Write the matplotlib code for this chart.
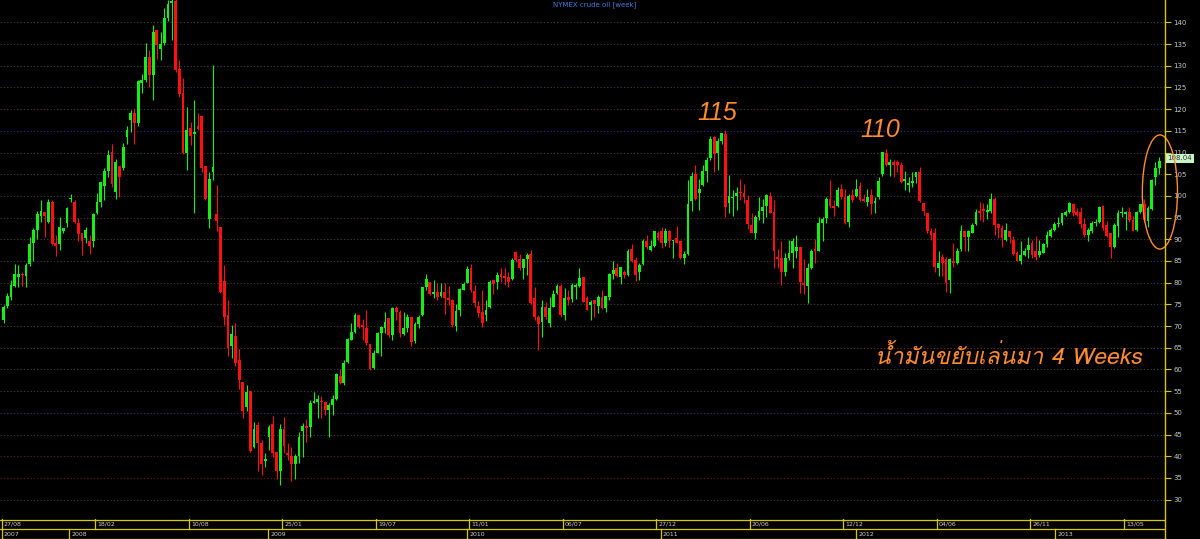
import numpy as np
import matplotlib.pyplot as plt
from matplotlib import font_manager
from matplotlib.ft2font import FT2Font
from matplotlib.patches import Ellipse
from matplotlib.lines import Line2D
from matplotlib.transforms import blended_transform_factory

# weekly NYMEX crude, 27/08/2007 .. mid 2013
opens = [
    71.4, 74.6, 76.8, 79.3, 81.4, 82.1, 81.5, 84.3, 89.2, 92.2,
    95.4, 96.4, 94.1, 98.6, 89.2, 88.9, 91.8, 93.8, 99.2, 98.6,
    93.8, 91.5, 90.3, 89.5, 89.5, 96.0, 98.6, 102.2, 105.8, 110.1,
    101.0, 106.9, 106.4, 113.5, 117.6, 119.2, 116.7, 126.1, 126.7, 131.9,
    127.9, 138.2, 133.9, 135.2, 140.9, 144.4, 144.9, 129.2, 123.6, 109.8,
    115.6, 114.3, 116.0, 118.4, 106.9, 94.6, 105.4, 95.8, 92.8, 80.4,
    72.6, 65.3, 67.7, 62.2, 57.1, 51.4, 55.0, 42.2, 47.2, 43.1,
    38.8, 44.4, 47.5, 41.0, 36.5, 46.4, 40.8, 40.1, 38.3, 40.1,
    45.9, 47.0, 46.7, 52.2, 52.4, 52.8, 52.4, 50.7, 51.8, 53.1,
    58.5, 56.8, 61.8, 66.8, 68.7, 72.6, 70.3, 69.5, 65.9, 60.3,
    63.9, 68.5, 69.5, 71.8, 67.9, 74.1, 73.3, 68.2, 69.5, 72.2,
    66.6, 70.5, 72.6, 78.9, 80.2, 77.4, 77.9, 76.9, 77.9, 76.4,
    76.0, 70.0, 73.6, 78.4, 80.0, 83.3, 78.2, 74.6, 73.3, 72.6,
    74.3, 80.6, 80.2, 81.9, 81.5, 81.2, 80.8, 87.1, 85.4, 83.3,
    85.4, 86.6, 76.4, 72.0, 71.0, 74.5, 70.8, 74.5, 77.7, 79.2,
    72.6, 76.8, 76.2, 79.1, 79.2, 81.4, 76.4, 74.8, 75.9, 74.6,
    76.8, 74.1, 76.8, 82.0, 83.3, 81.4, 82.5, 81.8, 87.7, 85.2,
    82.5, 84.3, 89.7, 87.5, 88.5, 91.4, 91.8, 89.2, 91.8, 89.5,
    90.2, 89.5, 85.8, 86.6, 98.9, 105.0, 100.6, 102.5, 105.8, 108.7,
    113.5, 109.8, 112.7, 114.3, 98.3, 99.6, 100.0, 101.0, 100.6, 99.1,
    93.3, 91.5, 95.2, 96.6, 97.7, 100.0, 96.4, 86.0, 85.8, 82.5,
    85.8, 86.9, 87.2, 88.2, 80.0, 79.2, 83.3, 87.7, 87.4, 93.8,
    94.8, 99.4, 97.7, 97.7, 101.5, 99.7, 94.1, 100.2, 100.0, 102.3,
    99.4, 98.7, 100.2, 98.3, 99.7, 105.0, 110.0, 107.1, 107.8, 107.7,
    107.1, 103.4, 102.5, 102.9, 104.3, 105.4, 98.4, 96.1, 91.8, 91.4,
    83.4, 86.0, 85.5, 80.6, 85.1, 84.5, 87.7, 91.8, 90.6, 91.5,
    93.5, 96.6, 96.9, 96.4, 96.6, 99.2, 93.5, 92.5, 89.9, 92.0,
    89.9, 86.8, 84.9, 86.4, 87.5, 89.2, 87.2, 86.4, 86.9, 88.9,
    90.8, 92.2, 93.5, 93.8, 95.6, 96.4, 98.1, 96.4, 96.4, 93.5,
    91.0, 92.0, 93.8, 94.1, 97.7, 93.3, 91.4, 88.2, 93.0, 96.0,
    95.8, 96.4, 94.5, 92.2, 96.4, 98.1, 94.3, 96.9, 104.4, 106.4,
]
highs = [
    74.9, 77.6, 80.6, 84.3, 84.1, 82.5, 84.5, 90.5, 92.5, 96.6,
    99.1, 96.4, 99.4, 99.1, 91.0, 95.1, 92.6, 97.5, 100.4, 99.1,
    94.8, 91.5, 92.9, 91.0, 96.0, 100.6, 103.3, 106.4, 110.6, 112.0,
    108.4, 106.9, 112.3, 116.0, 119.8, 120.2, 126.6, 128.1, 135.3, 133.6,
    139.4, 138.2, 137.8, 143.2, 145.1, 147.3, 145.5, 131.3, 127.1, 120.4,
    117.1, 122.1, 119.0, 118.4, 106.9, 105.6, 130.2, 102.5, 92.8, 84.1,
    76.0, 70.3, 70.8, 64.7, 57.1, 56.4, 55.0, 48.0, 48.0, 43.8,
    40.7, 47.2, 49.3, 41.0, 47.5, 49.0, 43.0, 42.2, 40.5, 45.5,
    47.6, 48.5, 53.0, 54.7, 54.1, 53.9, 52.4, 52.2, 54.1, 59.1,
    60.0, 62.3, 67.2, 70.6, 73.0, 72.6, 71.6, 73.7, 65.9, 64.5,
    68.7, 70.0, 73.3, 71.8, 74.5, 74.6, 73.7, 73.3, 72.9, 72.2,
    71.0, 72.6, 79.1, 82.0, 80.2, 80.6, 80.0, 80.0, 80.0, 79.2,
    76.2, 75.1, 78.7, 80.2, 83.8, 84.3, 79.5, 75.8, 78.3, 76.0,
    80.6, 80.8, 82.5, 83.3, 83.3, 82.5, 85.6, 87.4, 86.6, 85.4,
    86.8, 87.5, 78.9, 72.6, 76.0, 75.6, 76.8, 78.3, 79.7, 79.8,
    78.7, 78.3, 79.9, 80.0, 83.3, 81.4, 76.9, 76.0, 75.9, 77.2,
    78.3, 76.9, 82.2, 84.9, 84.5, 83.7, 82.9, 87.7, 88.9, 86.0,
    84.6, 90.0, 91.0, 89.8, 92.0, 92.0, 92.9, 92.5, 92.1, 89.8,
    93.1, 89.5, 87.2, 103.7, 105.4, 107.1, 103.8, 107.1, 109.0, 113.7,
    113.7, 113.3, 114.6, 115.2, 104.8, 101.4, 102.0, 103.8, 102.7, 100.2,
    96.1, 95.6, 99.8, 99.4, 100.4, 100.8, 99.1, 87.7, 89.5, 86.9,
    89.8, 90.2, 91.0, 88.3, 85.4, 84.5, 87.7, 90.0, 95.2, 95.2,
    99.8, 103.7, 99.1, 102.0, 102.7, 101.5, 100.4, 101.5, 104.0, 103.3,
    100.4, 101.7, 101.7, 99.8, 104.3, 110.2, 110.7, 108.4, 108.3, 108.3,
    107.9, 105.8, 104.4, 105.4, 105.4, 106.7, 98.4, 96.1, 92.5, 92.5,
    87.4, 86.6, 86.0, 85.6, 89.2, 87.9, 93.3, 91.8, 92.1, 93.8,
    96.9, 98.7, 98.3, 98.1, 100.6, 99.7, 93.7, 93.3, 93.8, 92.0,
    90.8, 87.2, 89.7, 87.9, 90.5, 89.8, 90.8, 89.8, 89.2, 91.8,
    92.5, 94.1, 95.1, 96.1, 96.8, 98.7, 98.3, 97.1, 97.4, 94.8,
    92.5, 94.3, 94.6, 97.7, 97.9, 94.3, 91.5, 93.8, 96.8, 97.4,
    96.6, 97.4, 95.4, 96.6, 98.1, 99.2, 97.7, 103.8, 107.7, 108.9,
]
lows = [
    70.6, 74.1, 76.0, 78.9, 79.1, 79.2, 78.9, 83.9, 85.1, 90.0,
    94.1, 90.6, 93.7, 88.7, 86.2, 87.5, 91.4, 92.9, 98.7, 93.7,
    89.7, 86.4, 89.1, 86.6, 88.3, 95.9, 97.5, 99.1, 104.4, 102.0,
    99.4, 99.8, 106.0, 112.0, 114.8, 112.0, 116.1, 123.8, 126.3, 125.0,
    122.0, 131.5, 131.3, 134.8, 140.2, 135.9, 128.6, 122.9, 109.7, 106.0,
    111.7, 96.1, 115.2, 105.6, 99.1, 92.5, 103.7, 91.8, 77.6, 70.3,
    63.1, 62.6, 60.7, 55.4, 48.8, 50.5, 41.1, 41.8, 36.5, 35.7,
    37.5, 41.5, 39.9, 34.7, 33.4, 40.8, 39.2, 34.2, 34.7, 38.4,
    39.9, 43.2, 44.4, 52.2, 48.8, 48.8, 49.5, 44.4, 49.5, 53.0,
    56.7, 56.4, 61.4, 66.7, 68.3, 69.5, 66.7, 65.7, 59.9, 60.0,
    63.7, 63.1, 68.3, 67.6, 66.9, 71.4, 67.6, 68.0, 68.7, 65.4,
    66.0, 69.5, 72.3, 78.3, 77.2, 76.4, 76.0, 76.8, 72.9, 74.9,
    69.9, 68.9, 72.3, 78.3, 79.9, 77.9, 74.5, 72.2, 69.9, 71.2,
    74.1, 77.5, 78.5, 80.2, 79.5, 78.9, 80.6, 84.8, 82.9, 80.8,
    81.8, 75.1, 71.4, 64.6, 67.6, 71.6, 69.9, 74.3, 77.5, 72.2,
    71.4, 74.9, 75.6, 76.2, 79.1, 75.6, 73.6, 71.3, 72.0, 73.1,
    73.9, 73.3, 76.0, 80.8, 81.4, 79.7, 81.0, 81.5, 84.8, 80.5,
    80.6, 84.1, 87.7, 87.2, 88.3, 89.8, 87.9, 88.5, 88.3, 85.6,
    89.1, 85.4, 84.3, 86.4, 96.6, 99.1, 96.8, 102.3, 103.3, 108.3,
    105.6, 106.0, 112.0, 95.2, 96.0, 95.4, 96.8, 99.1, 98.3, 92.3,
    91.4, 90.0, 94.5, 93.8, 95.2, 96.0, 83.3, 83.3, 79.5, 81.5,
    85.2, 83.5, 85.8, 77.7, 77.4, 75.4, 83.1, 84.5, 87.2, 89.5,
    93.7, 97.1, 95.4, 97.5, 99.4, 93.5, 92.9, 98.7, 99.8, 98.9,
    98.7, 97.7, 95.8, 96.1, 99.4, 104.6, 106.9, 104.6, 104.3, 105.4,
    103.0, 101.4, 101.0, 102.0, 103.0, 98.7, 95.6, 91.5, 89.8, 82.5,
    81.5, 81.5, 77.9, 77.7, 83.7, 84.3, 87.2, 87.4, 87.4, 91.4,
    93.3, 94.5, 94.1, 94.6, 96.1, 91.0, 90.2, 88.3, 89.7, 89.2,
    86.4, 84.9, 84.3, 86.2, 85.6, 85.6, 85.2, 86.0, 86.8, 88.3,
    90.5, 92.0, 92.9, 93.3, 95.4, 96.0, 95.4, 95.4, 92.5, 90.5,
    89.7, 91.5, 93.1, 93.8, 92.1, 90.5, 85.8, 87.9, 90.5, 95.2,
    92.1, 94.1, 91.8, 91.8, 96.0, 94.1, 92.9, 96.8, 102.5, 105.1,
]
closes = [
    74.5, 76.9, 79.5, 82.0, 82.0, 81.7, 84.1, 88.9, 92.2, 95.8,
    96.6, 95.4, 98.6, 88.9, 88.5, 92.8, 92.5, 97.3, 99.6, 94.1,
    91.2, 89.7, 92.2, 88.5, 95.8, 98.6, 103.1, 105.8, 109.5, 102.8,
    107.9, 104.3, 111.2, 115.2, 119.2, 116.9, 126.4, 126.6, 131.9, 127.9,
    137.8, 134.7, 135.1, 140.9, 144.2, 144.9, 128.9, 123.5, 109.8, 115.3,
    113.8, 114.7, 115.5, 106.5, 99.4, 103.9, 106.6, 94.3, 77.9, 72.2,
    64.9, 68.2, 61.4, 57.6, 50.5, 54.9, 41.3, 46.4, 43.0, 38.2,
    39.3, 46.7, 40.8, 36.5, 46.2, 42.4, 40.3, 38.2, 40.1, 44.5,
    46.9, 46.6, 52.3, 52.8, 53.1, 52.4, 50.7, 51.8, 53.1, 59.0,
    56.8, 61.6, 67.0, 68.7, 72.6, 69.9, 69.7, 66.0, 60.0, 63.9,
    68.5, 69.9, 71.0, 68.0, 74.1, 73.3, 68.3, 69.5, 72.2, 66.4,
    70.5, 72.2, 78.9, 80.8, 77.4, 77.9, 76.7, 77.9, 76.4, 75.9,
    70.3, 73.5, 78.5, 79.7, 83.1, 78.3, 75.3, 73.1, 70.7, 73.7,
    80.2, 79.8, 81.8, 81.4, 81.0, 80.2, 85.2, 85.2, 83.5, 85.4,
    86.4, 75.4, 72.0, 70.5, 74.5, 72.0, 74.1, 77.5, 79.2, 72.6,
    76.4, 76.0, 79.5, 79.5, 81.0, 75.6, 73.7, 75.6, 75.1, 76.8,
    74.1, 76.9, 82.0, 82.9, 81.5, 83.7, 81.8, 87.4, 85.1, 81.8,
    84.1, 89.7, 88.2, 88.5, 91.8, 90.2, 89.1, 92.0, 89.5, 89.7,
    89.2, 85.8, 86.6, 98.1, 104.6, 99.2, 101.5, 105.8, 108.3, 113.1,
    109.7, 112.7, 114.4, 97.5, 100.0, 99.8, 100.7, 100.6, 99.7, 93.5,
    91.5, 95.2, 96.6, 97.5, 100.2, 96.1, 87.4, 85.5, 82.5, 85.8,
    86.9, 89.5, 88.3, 80.2, 79.5, 83.3, 87.2, 87.4, 93.7, 94.6,
    99.4, 97.7, 97.1, 101.4, 99.7, 93.8, 100.0, 99.1, 101.7, 99.1,
    98.9, 99.8, 98.1, 98.9, 103.5, 110.2, 107.1, 107.9, 107.1, 107.1,
    103.3, 103.8, 103.0, 103.5, 105.4, 98.9, 96.6, 91.8, 91.0, 83.7,
    84.5, 84.5, 80.0, 85.4, 84.5, 87.4, 91.8, 90.6, 91.8, 93.3,
    96.4, 96.1, 96.6, 96.8, 99.2, 93.3, 92.5, 90.2, 92.2, 90.5,
    86.6, 85.1, 86.4, 87.2, 88.7, 86.4, 86.0, 87.2, 88.9, 91.0,
    92.2, 93.5, 93.8, 96.0, 96.4, 98.3, 96.1, 95.6, 93.5, 91.0,
    92.2, 93.8, 94.1, 97.5, 92.5, 90.8, 88.3, 93.3, 96.0, 96.4,
    96.4, 94.5, 92.0, 96.4, 98.1, 94.5, 97.1, 103.7, 106.4, 108.04,
]

price_ticks = list(range(30, 145, 5))
grid_colors = {
    140: '#2c4428', 135: '#3a3a3a', 130: '#3a3a3a', 125: '#3e3050', 120: '#483040',
    115: '#2c2c80', 110: '#3a3a3a', 105: '#3a3a3a', 100: '#3a3a3a', 95: '#483030',
    90: '#244824', 85: '#3a3a3a', 80: '#3a3a3a', 75: '#3a3a3a', 70: '#3a3a3a',
    65: '#5a3a18', 60: '#3a3a3a', 55: '#3a3a3a', 50: '#2c2c70', 45: '#3a3a3a',
    40: '#581830', 35: '#601818', 30: '#3a3a3a',
}

# bottom date bar: candle index where each label box starts
week_labels = ['27/08', '18/02', '10/08', '25/01', '19/07', '11/01', '06/07',
               '27/12', '20/06', '12/12', '04/06', '26/11', '13/05']
week_pos = [0, 25, 50, 75, 100, 125, 150, 175, 200, 225, 250, 275, 300]
year_labels = ['2007', '2008', '2009', '2010', '2011', '2012', '2013']
year_pos = [0, 18, 71.2, 124.4, 176.2, 228.4, 281.6]


def thai_font():
    for f in font_manager.fontManager.ttflist:
        try:
            if 0x0E19 in FT2Font(f.fname).get_charmap():
                return f.name
        except Exception:
            pass
    return 'DejaVu Sans'


W, H = 1200, 539
AX_R = 1165 / W
fig = plt.figure(figsize=(W / 100, H / 100), dpi=100, facecolor='black')
ax = fig.add_axes([0, 20 / H, AX_R, 519 / H], facecolor='black')
ax.set_xlim(-0.94, 310.56)
ax.set_ylim(25.55, 145.14)

for p in price_ticks:
    ax.axhline(p, color=grid_colors[p], lw=0.8, ls=(0, (1.2, 1.8)), zorder=1)

up, down = '#14f014', '#ff1010'
n = len(closes)
x = np.arange(n)
o, h, l, c = (np.array(a) for a in (opens, highs, lows, closes))
col = [up if c[i] >= o[i] else down for i in range(n)]
ax.vlines(x, l, h, colors=col, lw=0.8, zorder=2)
body_lo = np.minimum(o, c)
body_h = np.maximum(np.abs(c - o), 0.25)
ax.bar(x, body_h, bottom=body_lo, width=0.75, color=col, lw=0, zorder=3)

ax.set_xticks([])
ax.set_yticks(price_ticks)
ax.yaxis.tick_right()
ax.tick_params(axis='y', colors='#d8c800', labelcolor='#c8c8c8', labelsize=5,
               length=4, width=0.8, pad=2)
for s in ax.spines.values():
    s.set_visible(False)

orange = '#ff8c32'
ax.text(190.8, 119.1, '115', color=orange, fontsize=18, style='italic',
        ha='center', va='center', family='Liberation Sans')
ax.text(234.4, 115.2, '110', color=orange, fontsize=18, style='italic',
        ha='center', va='center', family='Liberation Sans')
ax.text(233, 61.3, 'น้ำมันขยับเล่นมา 4 Weeks', color=orange, fontsize=16.5,
        style='italic', ha='left', va='baseline', family=[thai_font(), 'DejaVu Sans'])
ax.add_patch(Ellipse((309.2, 100.9), 9.4, 26.3, fill=False, ec=orange, lw=1,
                     clip_on=False, zorder=5))

# last price tag
tr = blended_transform_factory(ax.transAxes, ax.transData)
ax.text(1.002, closes[-1] + 0.6, f'{closes[-1]:.2f}', transform=tr, fontsize=5,
        color='#303030', ha='left', va='center', clip_on=False,
        bbox=dict(boxstyle='square,pad=0.25', fc='#c8f5c8', ec='none'))

fig.text(595 / W, 1 - 4.5 / H, 'NYMEX crude oil [week]', color='#3c7ee0',
         fontsize=5, ha='center', va='center')

# date bar
axd = fig.add_axes([0, 0, AX_R, 20 / H], facecolor='black')
axd.set_xlim(ax.get_xlim())
axd.set_ylim(0, 2)
axd.axis('off')
yel = '#d8c800'
for yy in (0.05, 1.0, 1.95):
    axd.plot([-0.94, 310.56], [yy, yy], color=yel, lw=0.9)
for pos, lab in zip(week_pos, week_labels):
    axd.plot([pos - 0.5, pos - 0.5], [1, 2], color=yel, lw=0.9)
    axd.text(pos + 0.1, 1.5, lab, color='#d0d0d0', fontsize=4.5, ha='left', va='center')
for pos, lab in zip(year_pos, year_labels):
    axd.plot([pos - 0.5, pos - 0.5], [0, 1], color=yel, lw=0.9)
    axd.text(pos + 0.1, 0.5, lab, color='#d0d0d0', fontsize=4.5, ha='left', va='center')

fig.add_artist(Line2D([AX_R, AX_R], [0, 1], transform=fig.transFigure, color=yel, lw=1))

fig.savefig('out.png', dpi=100, facecolor='black')
